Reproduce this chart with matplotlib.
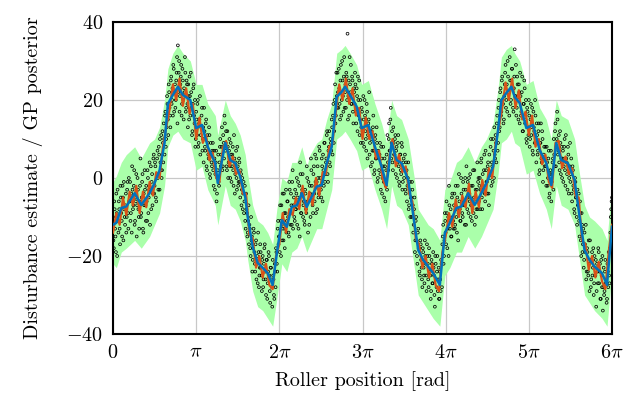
import numpy as np
import matplotlib
matplotlib.use('Agg')
import matplotlib.pyplot as plt

plt.rcParams['font.family'] = 'serif'
plt.rcParams['font.serif'] = ['cmr10']
plt.rcParams['mathtext.fontset'] = 'cm'
plt.rcParams['axes.formatter.use_mathtext'] = True
plt.rcParams['font.size'] = 14.5

# GP posterior mean (x in units of pi)
mean_x = [0.00, 0.04, 0.10, 0.16, 0.26, 0.34, 0.44, 0.50, 0.56, 0.62, 0.66, 0.72, 0.78, 0.84, 0.93, 1.00,
          1.07, 1.14, 1.23, 1.26, 1.35, 1.41, 1.47, 1.53, 1.59, 1.62, 1.68, 1.74, 1.80, 1.86, 1.92, 1.97,
          2.03, 2.09, 2.15, 2.21, 2.27, 2.33, 2.37, 2.45, 2.51, 2.57, 2.63, 2.69, 2.75, 2.79, 2.85, 2.93,
          2.99, 3.07, 3.15, 3.23, 3.29, 3.35, 3.41, 3.47, 3.55, 3.63, 3.67, 3.73, 3.79, 3.85, 3.93, 3.99,
          4.05, 4.13, 4.19, 4.27, 4.35, 4.43, 4.49, 4.57, 4.63, 4.67, 4.73, 4.79, 4.83, 4.89, 4.97,
          5.05, 5.13, 5.21, 5.27, 5.33, 5.39, 5.47, 5.55, 5.61, 5.67, 5.73, 5.79, 5.88, 5.94, 6.00]
mean_y = [-12, -11.5, -7.7, -7.3, -3.9, -6.9, -3.9, -1.3, 2, 9, 19, 21.3, 23.4, 21.3, 20, 12.8,
          13.6, 8, 3.8, -1.3, 9, 4.6, 3.8, 0.3, -4.9, -10, -17.7, -21.8, -23, -24.4, -27.4, -19.3,
          -10.8, -12.5, -7.4, -7, -3.9, -7.4, -5.6, -2.2, -1.8, 3.8, 8, 20.8, 22.1, 23.4, 21.3, 18.3,
          12.8, 13.6, 8, 2.9, -1.8, 9, 4.6, 3.8, -0.5, -12.5, -18.5, -21, -22.7, -24.4, -27.4, -14.1,
          -11.5, -7.7, -7.3, -3.9, -6.9, -3.9, -1.3, 2.9, 12.3, 20, 21.8, 23.4, 20.8, 19.2, 12.8,
          13.6, 7.2, 3.8, -1.8, 9, 4.6, 3.8, -0.5, -9.9, -18.5, -21, -22.7, -24.4, -27.4, -12.5]
band_hi = [-1, 0.5, 4, 6, 8, 5, 9, 10, 13, 20, 28, 32, 34, 32, 30, 24,
           24, 19, 16, 11, 20, 16, 14, 11, 6, 1, -7, -11, -12, -14, -17, -8,
           0, -1, 4, 4, 8, 3, 6, 9, 10, 15, 19, 32, 33, 34, 32, 29,
           24, 25, 19, 14, 9, 20, 16, 15, 10, -1, -8, -10, -12, -13, -16, -3,
           -1, 4, 5, 8, 4, 8, 10, 14, 23, 31, 33, 34, 32, 30, 24,
           25, 18, 15, 10, 20, 16, 15, 10, 1, -7, -10, -11, -13, -16, -1]
band_lo = [-22, -23, -19, -18, -16, -18, -15, -12, -9, -2, 8, 11, 12, 10, 9, 2,
           3, -3, -7, -12, -2, -7, -8, -11, -16, -21, -29, -33, -34, -36, -38, -31,
           -22, -24, -19, -18, -15, -19, -17, -13, -13, -8, -3, 10, 11, 12, 10, 7,
           2, 3, -3, -8, -13, -2, -7, -8, -12, -24, -30, -32, -34, -36, -38, -25,
           -23, -19, -19, -15, -18, -15, -12, -8, 1, 9, 10, 12, 9, 8, 1,
           2, -4, -8, -13, -2, -7, -8, -12, -21, -30, -32, -34, -36, -38, -24]

# disturbance estimate (orange), sampled every 0.04 pi
est_step = 0.04
est_y = [-14, -9, -12, -5, -9.5, -3.5, -7, -2, -9, -3.5, -7.5, -1, -4.5, 1.5, 0, 8, 13, 17.5, 24, 20,
         25.5, 18.5, 23, 16.5, 19, 10, 15.5, 9, 11, 4.5, 6.5, 0, -1, 7.5, 9.5, 3, 5.5, 1, 2, -4,
         -4, -14.5, -15.5, -23, -20, -25.5, -22, -27.5, -28.5, -20,
         -17, -9, -14, -8, -9.5, -5, -8, -2, -9, -3.5, -7, 0, -4.5, 1.5, 1, 8, 9, 17, 24, 20,
         25.5, 19, 23, 16, 18, 10, 15.5, 10, 12, 5, 7, 0, -2.5, 5, 10, 3, 6, 1.5, 3, -4,
         -6, -15.5, -17, -23, -20, -25.5, -22, -27.5, -29, -19,
         -15, -9, -12.5, -5.5, -10, -4.5, -7.5, -1.5, -9, -3.5, -7.5, -0.5, -4.5, 2.5, 0, 9, 13, 18, 24.5, 20,
         25.5, 18, 22.5, 15, 17, 11, 16, 8, 10, 3.5, 6, -1, -2.5, 9, 9.5, 2.5, 5.5, 1, 2.5, -4.5,
         -5, -16, -17, -23.5, -20, -25.5, -21.5, -26.5, -28.5, -19, -12]

# measured disturbance samples, every 0.01 pi
sample_step = 0.01
sample_y = [
    -10, -18, -8, -15, -4, -20, -11, -6, -13, -2,
    -9, -15, -5, -1, -10, -7, -14, -3, -9, 0,
    -6, -11, -4, 3, -8, -2, -12, -5, 1, -7,
    -3, -10, -6, 5, -9, -1, -13, -4, 2, -7,
    -2, -11, 0, -5, 4, -3, -8, 1, -4, 6,
    -2, 3, -6, 5, 0, 8, -3, 4, 11, 2,
    9, 14, 6, 17, 10, 21, 15, 24, 18, 13,
    26, 20, 16, 28, 22, 18, 25, 31, 34, 27,
    17, 24, 29, 19, 25, 15, 22, 27, 18, 24,
    13, 21, 26, 16, 22, 11, 19, 24, 14, 8,
    17, 11, 20, 9, 15, 6, 13, 18, 10, 4,
    12, 7, 15, 2, 9, 5, 11, 0, 6, 3,
    9, -2, 5, 1, 7, -4, 2, -1, 4, 10,
    6, 13, 3, 9, 16, 7, 12, 2, 8, 4,
    10, 0, 6, 3, 8, -2, 5, 1, 7, -3,
    3, -1, 4, -5, 1, -3, -8, -1, -6, -11,
    -4, -9, -14, -7, -12, -18, -10, -15, -21, -13,
    -19, -24, -16, -22, -27, -19, -25, -17, -23, -29,
    -20, -26, -18, -24, -30, -21, -27, -19, -25, -32,
    -23, -28, -21, -26, -31, -24, -18, -22, -13, -17,
    -15, -7, -20, -12, -4, -16, -9, -13, -3, -11,
    -6, -14, -1, -9, -4, -12, 2, -7, -10, -3,
    -8, 0, -5, -13, -2, 4, -9, -4, 1, -7,
    -11, -3, -8, 3, -6, -1, -12, -4, 5, -2,
    -7, 1, -4, 6, -9, -1, 3, -5, 8, 0,
    -3, 5, -6, 2, 9, -1, 4, 11, 1, 7,
    12, 3, 9, 15, 6, 19, 12, 24, 16, 21,
    27, 18, 23, 15, 29, 20, 25, 17, 31, 22,
    18, 26, 37, 21, 16, 24, 29, 19, 25, 14,
    22, 27, 17, 23, 12, 20, 25, 15, 9, 18,
    12, 21, 8, 16, 10, 19, 5, 14, 22, 9,
    3, 12, 7, 16, 1, 10, 5, 13, -1, 7,
    2, 9, -3, 5, 0, 8, -5, 3, -2, 6,
    11, 2, 14, 7, 18, 9, 4, 13, 6, 10,
    1, 8, 4, 11, -1, 6, 2, 9, -3, 4,
    0, 6, -4, 2, -2, 4, -7, -1, -5, -10,
    -3, -14, -8, -19, -11, -16, -22, -13, -18, -25,
    -17, -23, -28, -19, -25, -16, -22, -29, -20, -26,
    -18, -24, -31, -21, -27, -19, -25, -33, -22, -28,
    -20, -26, -31, -24, -29, -22, -17, -12, -20, -9,
    -14, -6, -18, -10, -2, -13, -8, -15, -4, -11,
    -7, -13, -2, -10, -5, -16, 1, -8, -11, -4,
    -9, -1, -6, -12, -3, 3, -8, -5, 0, -6,
    -10, -2, -7, 2, -5, -12, -3, -8, 4, -1,
    -6, 0, -3, 5, -8, -2, 2, -4, 7, -1,
    -4, 4, -7, 1, 8, -2, 3, 10, 0, 6,
    11, 4, 16, 9, 20, 13, 23, 17, 26, 19,
    15, 24, 29, 20, 17, 26, 22, 31, 19, 25,
    28, 18, 23, 33, 21, 16, 26, 20, 24, 14,
    21, 17, 26, 12, 19, 23, 15, 10, 18, 13,
    20, 8, 15, 11, 18, 6, 13, 9, 16, 4,
    11, 7, 14, 2, 9, 5, 12, -1, 6, 3,
    8, -2, 4, 0, 7, -4, 2, -6, 1, 5,
    10, 3, 14, 8, 17, 6, 11, 2, 9, 5,
    0, 7, 3, 10, -2, 5, 1, 8, -4, 3,
    -1, 5, -6, 2, -3, -9, -1, -5, -12, -7,
    -4, -15, -9, -20, -12, -17, -23, -14, -19, -26,
    -18, -24, -16, -29, -21, -26, -19, -23, -30, -20,
    -25, -33, -22, -27, -19, -24, -31, -21, -28, -34,
    -23, -29, -21, -26, -31, -24, -19, -27, -14, -8,
    -5]

# second pass of samples, shifted half a step
sample_y2 = [
    -16, -6, -13, -19, -9, -3, -14, -8, -17, -5,
    -11, -2, -16, -8, -12, -4, -10, -1, -13, -6,
    -1, -9, -14, -3, -7, 2, -11, -6, -15, 0,
    -8, -13, -2, -10, -5, 1, -14, -7, -3, -11,
    -6, 2, -9, -3, -12, 3, -1, -7, 5, -4,
    4, -5, 1, 7, -3, 6, 10, 2, 0, 12,
    4, 10, 16, 8, 13, 19, 11, 22, 16, 25,
    19, 23, 29, 17, 24, 20, 27, 14, 22, 30,
    21, 26, 16, 28, 20, 23, 31, 17, 25, 19,
    24, 15, 21, 27, 18, 12, 23, 16, 20, 10,
    15, 19, 8, 14, 21, 11, 16, 7, 13, 18,
    8, 14, 3, 11, 6, 13, 1, 9, 4, 7,
    2, 7, -3, 4, -6, 0, 6, -2, 8, 3,
    8, 2, 11, 5, 14, 9, 3, 12, 0, 7,
    3, 9, -1, 6, 2, 11, -4, 4, 0, 8,
    -2, 5, -1, 2, -7, 0, -4, -9, -2, -13,
    -8, -15, -11, -17, -13, -20, -16, -24, -18, -14,
    -22, -17, -26, -20, -14, -28, -23, -19, -25, -21,
    -28, -22, -17, -26, -21, -31, -24, -20, -29, -23,
    -26, -33, -25, -30, -22, -28, -19, -24, -11, -15,
    -19, -11, -7, -16, -13, -4, -18, -9, -14, -6,
    -10, -15, -3, -12, -7, -1, -13, -5, -11, -8,
    -4, -12, -1, -7, -15, 1, -9, -3, -10, -6,
    -12, -4, -9, 0, -14, -6, -2, -10, 2, -5,
    -9, 3, -6, -1, 5, -8, 0, -4, 7, -2,
    -5, 3, 6, -2, 9, 1, 5, 12, -1, 8,
    4, 10, 7, 13, 16, 9, 20, 14, 27, 18,
    22, 28, 19, 25, 16, 30, 21, 26, 18, 24,
    27, 20, 15, 25, 31, 22, 19, 26, 17, 23,
    19, 24, 14, 21, 26, 16, 11, 20, 13, 17,
    9, 15, 20, 12, 7, 17, 11, 15, 6, 12,
    10, 4, 13, 7, 2, 11, 5, 9, 0, 6,
    6, 1, 8, -4, 3, -1, 5, -6, 2, -3,
    4, 10, 7, 15, 5, 12, 2, 9, 6, 11,
    7, 0, 9, 3, -2, 6, 1, 8, -1, 5,
    2, -3, 4, -6, 0, -8, -3, -10, -5, -1,
    -7, -12, -5, -16, -10, -20, -14, -18, -24, -16,
    -21, -26, -18, -23, -27, -20, -25, -17, -22, -28,
    -20, -25, -29, -22, -27, -23, -30, -20, -26, -24,
    -29, -23, -31, -26, -21, -28, -15, -22, -16, -11,
    -17, -9, -13, -20, -7, -11, -15, -5, -10, -13,
    -4, -12, -8, -14, -2, -9, -6, -11, 0, -7,
    -10, -3, -7, 0, -12, -5, -1, -9, -4, 1,
    -7, -11, -2, -9, 2, -6, -10, -3, -8, 0,
    -2, -8, 4, -5, 1, -3, 6, -6, 2, -1,
    3, -4, 6, 0, 10, 4, -1, 7, 13, 5,
    9, 14, 7, 18, 12, 22, 16, 25, 20, 14,
    21, 27, 18, 24, 30, 22, 16, 25, 20, 28,
    23, 17, 26, 21, 29, 18, 24, 15, 22, 27,
    16, 22, 12, 19, 25, 14, 20, 9, 17, 11,
    16, 10, 19, 13, 7, 17, 12, 20, 9, 14,
    6, 12, 1, 9, 14, 4, 10, 2, 8, 5,
    3, 8, -2, 5, -5, 1, 7, -1, 4, -3,
    6, 12, 3, 10, 15, 7, 4, 12, 1, 8,
    5, -1, 8, 2, 11, 4, -3, 6, 0, 9,
    1, -4, 3, -2, -8, 0, -5, -10, -3, -7,
    -11, -6, -16, -9, -19, -13, -21, -17, -12, -24,
    -19, -25, -22, -16, -28, -21, -25, -18, -27, -23,
    -21, -29, -24, -18, -27, -22, -31, -25, -20, -28,
    -30, -24, -27, -32, -22, -28, -25, -18, -10, -6]

xticks = [0, 1, 2, 3, 4, 5, 6]
xtick_labels = ['$0$', r'$\pi$', r'$2\pi$', r'$3\pi$', r'$4\pi$', r'$5\pi$', r'$6\pi$']
yticks = [-40, -20, 0, 20, 40]

mx = np.array(mean_x) * np.pi
ex = np.arange(len(est_y)) * est_step * np.pi
sx = np.arange(len(sample_y)) * sample_step * np.pi
sx2 = (np.arange(len(sample_y2)) + 0.5) * sample_step * np.pi

fig = plt.figure(figsize=(6.28, 3.97), dpi=100)
ax = fig.add_axes([113 / 628, 1 - 334 / 397, (612 - 113) / 628, (334 - 22) / 397])

ax.fill_between(mx, band_lo, band_hi, color='#aaffaa', linewidth=0, zorder=1)
ax.scatter(sx, sample_y, s=4, marker='o', facecolors='none', edgecolors='black', linewidths=0.55, zorder=2)
ax.scatter(sx2, sample_y2, s=4, marker='o', facecolors='none', edgecolors='black', linewidths=0.55, zorder=2)
ax.plot(ex, est_y, color='#D95319', linewidth=1.6, zorder=3)
ax.plot(mx, mean_y, color='#0072BD', linewidth=1.8, zorder=4)

ax.set_xlim(0, 6 * np.pi)
ax.set_ylim(-40, 40)
ax.set_xticks(np.array(xticks) * np.pi)
ax.set_xticklabels(xtick_labels)
ax.set_yticks(yticks)
ax.set_yticklabels(['$%d$' % v if v >= 0 else '$-%d$' % -v for v in yticks])
ax.tick_params(length=0, pad=7, labelsize=14.5)
ax.grid(True, color='#c8c8c8', linewidth=0.9)
ax.set_axisbelow(True)
for s in ax.spines.values():
    s.set_linewidth(1.5)
    s.set_color('black')

ax.set_xlabel('Roller position [rad]', fontsize=14.5, labelpad=7)
ax.set_ylabel('Disturbance estimate / GP posterior', fontsize=14.5, labelpad=17)

fig.savefig('out.png', dpi=100)
